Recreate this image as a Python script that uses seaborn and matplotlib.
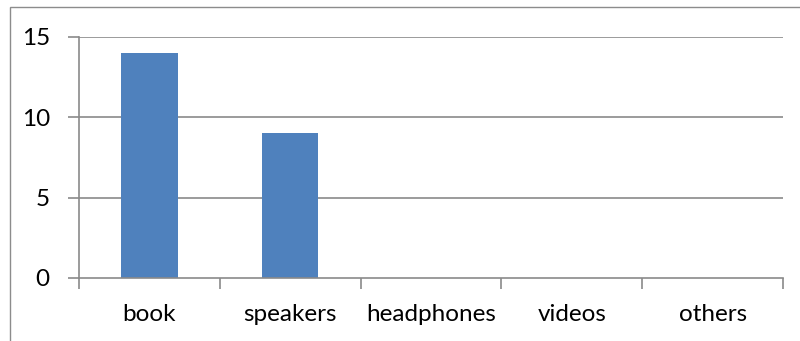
import matplotlib
matplotlib.use("Agg")
import matplotlib.pyplot as plt
from matplotlib.patches import Rectangle
from matplotlib.ticker import FixedLocator
import seaborn as sns
import pandas as pd

categories = ["book", "speakers", "headphones", "videos", "others"]
counts = [14, 9, 0, 0, 0]
y_ticks = [0, 5, 10, 15]

sns.set_theme(style="white")
plt.rcParams["font.family"] = ["Lato", "DejaVu Sans"]

df = pd.DataFrame({"category": categories, "count": counts})

W, H = 800, 341
fig = plt.figure(figsize=(W / 100, H / 100), dpi=100)
fig.patch.set_facecolor("white")

# outer chart frame (only top and left edges fall within the canvas)
fig.patches.append(Rectangle((10 / W, -0.1), 1.2, (H - 7) / H + 0.1,
                             transform=fig.transFigure, fill=False,
                             edgecolor="#8c8c8c", linewidth=1.0))

ax = fig.add_axes([79 / W, (H - 278) / H, (783 - 79) / W, (278 - 37) / H])
sns.barplot(data=df, x="category", y="count", color="#4F81BD",
            saturation=1, width=0.4, ax=ax, edgecolor="none")

grid_c = "#8a8a8a"
ax.set_ylim(0, 15)
ax.set_xlim(-0.5, len(categories) - 0.5)
ax.set_yticks(y_ticks)
ax.set_yticklabels([str(v) for v in y_ticks])
for v in y_ticks[1:]:
    ax.axhline(v, color=grid_c, linewidth=1.2, zorder=0)

ax.xaxis.set_minor_locator(FixedLocator([i - 0.5 for i in range(len(categories) + 1)]))
ax.tick_params(axis="x", which="major", length=0, pad=19, labelsize=17.5,
               labelcolor="black")
ax.tick_params(axis="x", which="minor", length=8, width=1.2, color=grid_c,
               direction="out", bottom=True)
ax.tick_params(axis="y", which="major", length=8, width=1.2, color=grid_c,
               direction="out", left=True, pad=13, labelsize=17.5,
               labelcolor="black")

for side in ("top", "right"):
    ax.spines[side].set_visible(False)
for side in ("left", "bottom"):
    ax.spines[side].set_color(grid_c)
    ax.spines[side].set_linewidth(1.2)

ax.set_xlabel("")
ax.set_ylabel("")
ax.set_facecolor("white")

fig.savefig("out.png", dpi=100, facecolor="white")
